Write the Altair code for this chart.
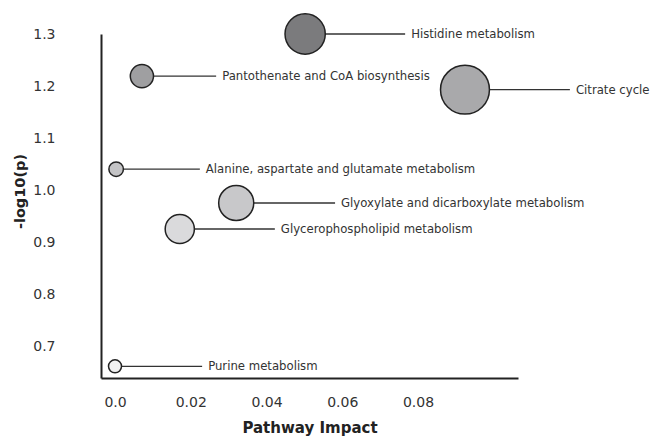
import altair as alt
import pandas as pd

pathways = [
    "Histidine metabolism",
    "Pantothenate and CoA biosynthesis",
    "Citrate cycle",
    "Alanine, aspartate and glutamate metabolism",
    "Glyoxylate and dicarboxylate metabolism",
    "Glycerophospholipid metabolism",
    "Purine metabolism",
]
impact = [0.0502, 0.0071, 0.0924, 0.0003, 0.0320, 0.0171, 0.0]
neglogp = [1.300, 1.219, 1.193, 1.040, 0.975, 0.925, 0.661]
label_anchor = [0.0766, 0.0267, 0.1201, 0.0224, 0.0581, 0.0422, 0.0230]

x_ticks = [0.0, 0.02, 0.04, 0.06, 0.08]
y_ticks = [0.7, 0.8, 0.9, 1.0, 1.1, 1.2, 1.3]

df = pd.DataFrame({
    "pathway": pathways,
    "impact": impact,
    "neglogp": neglogp,
    "label_x": label_anchor,
})

FONT = "DejaVu Sans"

xscale = alt.Scale(domain=[-0.0037, 0.1064], nice=False, zero=False)
yscale = alt.Scale(domain=[0.6385, 1.3], nice=False, zero=False)

x_enc = alt.X(
    "impact:Q", scale=xscale,
    axis=alt.Axis(
        title="Pathway Impact", values=x_ticks, ticks=False, grid=False,
        labelExpr="datum.value == 0 ? '0.0' : format(datum.value, '.2f')",
        labelPadding=17, labelFontSize=14, labelColor="#333333", labelFont=FONT,
        titleFont=FONT, titleFontSize=15, titleFontWeight="bold", titleColor="#222222",
        titlePadding=11, domainColor="#222222", domainWidth=2,
    ),
)
y_enc = alt.Y(
    "neglogp:Q", scale=yscale,
    axis=alt.Axis(
        title="-log10(p)", values=y_ticks, ticks=False, grid=False, format=".1f",
        labelPadding=46, labelFontSize=14, labelColor="#333333", labelFont=FONT,
        titleFont=FONT, titleFontSize=14.5, titleFontWeight="bold", titleColor="#222222",
        titleX=-81, titleY=157, titleAngle=270, titleAlign="center", titleBaseline="middle",
        domainColor="#222222", domainWidth=2,
    ),
)

base = alt.Chart(df)

rules = base.mark_rule(color="#333333", strokeWidth=1.3).encode(
    x=x_enc, x2="label_x:Q", y=y_enc,
)

bubbles = base.mark_circle(opacity=1, stroke="#222222", strokeWidth=1.5).encode(
    x=alt.X("impact:Q", scale=xscale),
    y=alt.Y("neglogp:Q", scale=yscale),
    size=alt.Size("impact:Q", scale=alt.Scale(type="pow", exponent=0.7, domain=[0, 0.0924], range=[170, 2393]), legend=None),
    color=alt.Color("neglogp:Q", scale=alt.Scale(
        domain=[0.661, 0.925, 0.975, 1.04, 1.2, 1.3],
        range=["#f0f0f0", "#dadadc", "#c8c8ca", "#c4c4c6", "#a8a8aa", "#7b7b7d"],
    ), legend=None),
)

labels = base.mark_text(align="left", baseline="middle", dx=6, fontSize=11.7, font=FONT, color="#333333").encode(
    x=alt.X("label_x:Q", scale=xscale),
    y=alt.Y("neglogp:Q", scale=yscale),
    text="pathway:N",
)

chart = alt.layer(rules, bubbles, labels).properties(
    width=417, height=344,
    autosize=alt.AutoSizeParams(type="none"),
    padding={"left": 101, "top": 34, "right": 134, "bottom": 60},
).configure(background="white").configure_view(stroke=None, strokeWidth=0)

chart.save("out.html", embed_options={"renderer": "svg", "actions": False})
